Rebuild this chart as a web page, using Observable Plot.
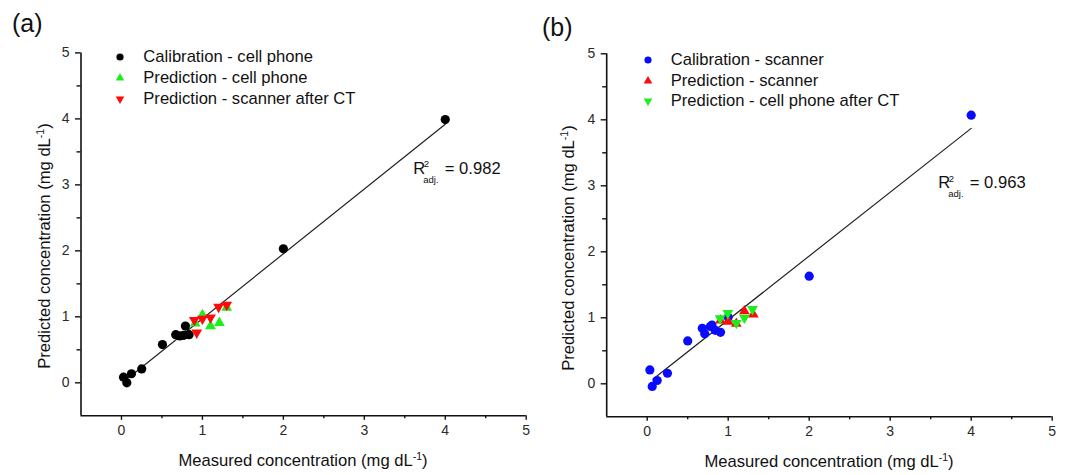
<!DOCTYPE html>
<html>
<head>
<meta charset="utf-8">
<script src="https://cdn.jsdelivr.net/npm/d3@7"></script>
<script src="https://cdn.jsdelivr.net/npm/@observablehq/plot@0.6"></script>
<style>
  html, body { margin: 0; padding: 0; background: #fff; }
  #wrap { position: relative; width: 1066px; height: 475px; overflow: hidden; font-family: "Liberation Sans", Arial, sans-serif; color: #111; }
  .panel { position: absolute; top: 0; }
  .t { position: absolute; white-space: nowrap; line-height: 1; }
  .sup { position: relative; top: -6px; font-size: 10.5px; }
  .legend { position: absolute; font-size: 16.6px; }
  .legend .row { display: flex; align-items: center; height: 20.7px; }
  .legend svg { flex: none; }
</style>
</head>
<body>
<div id="wrap"></div>
<script>
// ---------- data ----------
// Panel (a)
const calA_x = [0.025, 0.066, 0.123, 0.25, 0.506, 0.67, 0.72, 0.77, 0.79, 0.835, 2.0, 4.0];
const calA_y = [0.085, 0.0, 0.137, 0.21, 0.58, 0.73, 0.71, 0.72, 0.86, 0.73, 2.03, 3.99];
const predA_x = [0.91, 1.0, 1.1, 1.21, 1.3];
const predA_y = [0.90, 1.03, 0.86, 0.91, 1.14];
const ctA_x = [0.9, 1.0, 1.1, 0.93, 1.2, 1.3];
const ctA_y = [0.95, 0.97, 0.99, 0.76, 1.15, 1.18];
const fitA_x = [0.05, 4.0];
const fitA_y = [0.04, 3.92];
// Panel (b)
const calB_x = [0.033, 0.062, 0.123, 0.25, 0.5, 0.68, 0.71, 0.78, 0.8, 0.84, 0.905, 1.0, 2.0, 4.0];
const calB_y = [0.21, -0.04, 0.05, 0.16, 0.65, 0.84, 0.76, 0.87, 0.89, 0.81, 0.78, 1.01, 1.63, 4.07];
const predB_x = [0.905, 1.0, 1.1, 1.2, 1.31];
const predB_y = [0.96, 0.94, 0.91, 1.10, 1.05];
const ctB_x = [0.9, 0.995, 1.1, 1.2, 1.3];
const ctB_y = [0.99, 1.07, 0.92, 1.0, 1.13];
const fitB_x = [0.07, 4.0];
const fitB_y = [0.07, 3.87];

// ticks
const majorTicks = [0, 1, 2, 3, 4, 5];
const minorTicks = [0.5, 1.5, 2.5, 3.5, 4.5];
const domain = [-0.5, 5];

// text
const xTitle = "Measured concentration (mg dL";
const yTitle = "Predicted concentration (mg dL";
const legendA = ["Calibration - cell phone", "Prediction - cell phone", "Prediction - scanner after CT"];
const legendB = ["Calibration - scanner", "Prediction - scanner", "Prediction - cell phone after CT"];
const r2A = "0.982", r2B = "0.963";

const BLACK = "#000000", GREEN = "#1aef1a", RED = "#ff0a0a", BLUE = "#0a0aff";

const rows = (xs, ys) => xs.map((x, i) => ({x, y: ys[i]}));

function makePlot(o) {
  return Plot.plot({
    width: o.width, height: 475,
    marginLeft: o.ml, marginRight: o.mr, marginTop: o.mt, marginBottom: o.mb,
    x: {domain}, y: {domain},
    style: {fontFamily: "'Liberation Sans', Arial, sans-serif", fontSize: "14px", color: "#2a2a2a", background: "white", overflow: "visible"},
    marks: [
      Plot.ruleX([-0.5], {stroke: "#111", strokeWidth: 1.6}),
      Plot.ruleY([-0.5], {stroke: "#111", strokeWidth: 1.6}),
      Plot.axisX(majorTicks, {tickSize: 4.5, tickPadding: 5, label: null, stroke: "#111", strokeWidth: 1.4, tickFormat: d => String(d)}),
      Plot.axisX(minorTicks, {tickSize: 3, label: null, stroke: "#111", strokeWidth: 1.4, tickFormat: () => ""}),
      Plot.axisY(majorTicks, {tickSize: 5.5, tickPadding: 6, label: null, stroke: "#111", strokeWidth: 1.4, tickFormat: d => String(d)}),
      Plot.axisY(minorTicks, {tickSize: 4, label: null, stroke: "#111", strokeWidth: 1.4, tickFormat: () => ""}),
      Plot.line(o.fit, {x: "x", y: "y", stroke: "#222", strokeWidth: 1.2}),
      Plot.dot(o.cal, {x: "x", y: "y", r: 4.6, fill: o.calColor, symbol: "circle"}),
      Plot.dot(o.s1, {x: "x", y: "y", r: 4, fill: o.s1Color, symbol: "triangle", rotate: o.s1Rot}),
      Plot.dot(o.s2, {x: "x", y: "y", r: 4, fill: o.s2Color, symbol: "triangle", rotate: o.s2Rot})
    ]
  });
}

const wrap = document.getElementById("wrap");

function addPanel(left, width, plotOpts) {
  const div = document.createElement("div");
  div.className = "panel";
  div.style.left = left + "px";
  div.style.width = width + "px";
  div.appendChild(makePlot(Object.assign({width}, plotOpts)));
  wrap.appendChild(div);
}

function addText(html, left, baseline, fs, extra) {
  const d = document.createElement("div");
  d.className = "t";
  d.style.fontSize = fs + "px";
  d.style.left = left + "px";
  d.style.top = (baseline - 0.846 * fs) + "px";
  if (extra) Object.assign(d.style, extra);
  d.innerHTML = html;
  wrap.appendChild(d);
  return d;
}

function addXTitle(cx, baseline) {
  const d = addText(xTitle + '<span class="sup">-1</span>)', cx, baseline, 16.6);
  d.style.transform = "translateX(-50%)";
}
function addYTitle(cx, cy) {
  const d = document.createElement("div");
  d.className = "t";
  d.style.fontSize = "16.6px";
  d.style.left = cx + "px";
  d.style.top = cy + "px";
  d.style.transform = "translate(-50%, -50%) rotate(-90deg)";
  d.innerHTML = yTitle + '<span class="sup">-1</span>)';
  wrap.appendChild(d);
}
function addR2(left, baseline, value) {
  addText("R", left, baseline, 16.6);
  addText("2", left + 10.5, baseline - 7.5, 9.5);
  addText("adj.", left + 10, baseline + 8, 9.5);
  addText("= " + value, left + 31.5, baseline, 16.6);
}
function symbolPath(type, r) {
  return d3.symbol(type === "circle" ? d3.symbolCircle : d3.symbolTriangle, Math.PI * r * r)();
}
function addLegend(markerX, textX, firstY, labels, specs) {
  const lg = document.createElement("div");
  lg.className = "legend";
  lg.style.left = (markerX - 6) + "px";
  lg.style.top = (firstY - 10.35) + "px";
  labels.forEach((lab, i) => {
    const row = document.createElement("div");
    row.className = "row";
    const s = specs[i];
    const w = textX - (markerX - 6);
    row.innerHTML = `<svg width="${w}" height="14"><path d="${symbolPath(s.type, s.r)}" fill="${s.color}" transform="translate(6,7) rotate(${s.rot || 0})"/></svg><span>${lab}</span>`;
    lg.appendChild(row);
  });
  wrap.appendChild(lg);
}

// Panel (a)
addPanel(0, 540, {
  ml: 80.5, mr: 14.3, mt: 52.4, mb: 59.7,
  fit: rows(fitA_x, fitA_y),
  cal: rows(calA_x, calA_y), calColor: BLACK,
  s1: rows(predA_x, predA_y), s1Color: GREEN, s1Rot: 0,
  s2: rows(ctA_x, ctA_y), s2Color: RED, s2Rot: 180
});
// Panel (b)
addPanel(540, 526, {
  ml: 66.2, mr: 14.3, mt: 53.3, mb: 58.7,
  fit: rows(fitB_x, fitB_y),
  cal: rows(calB_x, calB_y), calColor: BLUE,
  s1: rows(predB_x, predB_y), s1Color: RED, s1Rot: 0,
  s2: rows(ctB_x, ctB_y), s2Color: GREEN, s2Rot: 180
});

// Panel letters
addText("(a)", 12, 32.5, 25);
addText("(b)", 542, 35.8, 25);

// Axis titles
addXTitle(303, 466.7);
addXTitle(829, 468.3);
addYTitle(44.5, 246);
addYTitle(569, 247.5);

// R^2 annotations
addR2(413.3, 175, r2A);
addR2(938.3, 189.3, r2B);

// Legends
addLegend(120, 143.3, 57.3, legendA, [
  {type: "circle", r: 3.6, color: BLACK},
  {type: "triangle", r: 3.2, color: GREEN},
  {type: "triangle", r: 3.2, color: RED, rot: 180}
]);
addLegend(648.3, 670.7, 60, legendB, [
  {type: "circle", r: 3.6, color: BLUE},
  {type: "triangle", r: 3.2, color: RED},
  {type: "triangle", r: 3.2, color: GREEN, rot: 180}
]);
</script>
</body>
</html>
